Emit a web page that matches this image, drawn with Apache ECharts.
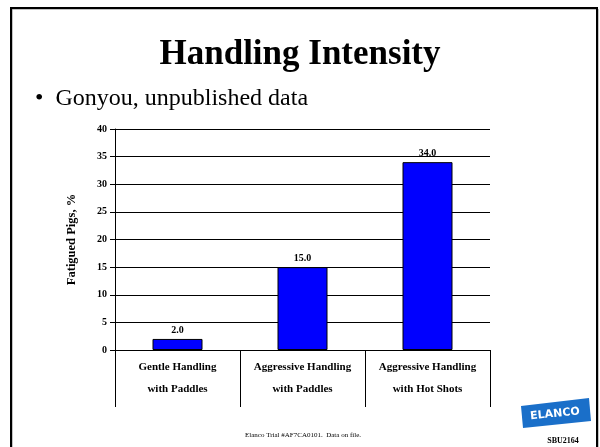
<!DOCTYPE html>
<html>
<head>
<meta charset="utf-8">
<script src="https://cdn.jsdelivr.net/npm/echarts@6/dist/echarts.min.js"></script>
<style>
  html, body { margin: 0; padding: 0; background: #fff; }
  #chart { width: 600px; height: 447px; }
</style>
</head>
<body>
<div id="chart"></div>
<script>
// Handling treatments and share of fatigued pigs
const categories = [
  'Gentle Handling\nwith Paddles',
  'Aggressive Handling\nwith Paddles',
  'Aggressive Handling\nwith Hot Shots'
];
const fatiguedPct = [2.0, 15.0, 34.0];
const yTicks = [0, 5, 10, 15, 20, 25, 30, 35, 40];

const serif = '"Liberation Serif", "Times New Roman", serif';

const chart = echarts.init(document.getElementById('chart'), null, { renderer: 'canvas' });

chart.setOption({
  backgroundColor: '#ffffff',
  animation: false,
  grid: { left: 115, right: 110, top: 129, bottom: 97, containLabel: false },
  xAxis: {
    type: 'category',
    data: categories,
    boundaryGap: true,
    axisLine: { show: true, lineStyle: { color: '#000', width: 1 } },
    axisTick: { show: true, inside: false, length: 57, lineStyle: { color: '#000', width: 1 } },
    axisLabel: {
      fontFamily: serif, fontWeight: 'bold', fontSize: 11, color: '#000',
      lineHeight: 22, margin: 6, interval: 0
    },
    splitLine: { show: false }
  },
  yAxis: {
    type: 'value',
    min: yTicks[0],
    max: yTicks[yTicks.length - 1],
    interval: yTicks[1] - yTicks[0],
    name: 'Fatigued Pigs, %',
    nameLocation: 'middle',
    nameGap: 37,
    nameRotate: 90,
    nameTextStyle: { fontFamily: serif, fontWeight: 'bold', fontSize: 12.5, color: '#000' },
    axisLine: { show: true, lineStyle: { color: '#000', width: 1 } },
    axisTick: { show: true, length: 5, lineStyle: { color: '#000' } },
    axisLabel: { fontFamily: serif, fontWeight: 'bold', fontSize: 10, color: '#000', margin: 8 },
    splitLine: { show: true, lineStyle: { color: '#000', width: 1 } }
  },
  series: [{
    type: 'bar',
    data: fatiguedPct,
    barWidth: '40%',
    itemStyle: { color: '#0000ff', borderColor: '#000', borderWidth: 1 },
    label: {
      show: true, position: 'top', distance: 4,
      formatter: p => p.value.toFixed(1),
      fontFamily: serif, fontWeight: 'bold', fontSize: 10, color: '#000'
    }
  }],
  graphic: [
    // slide frame with a light shadow edge
    { type: 'rect', shape: { x: 12, y: 9, width: 586, height: 450 }, style: { fill: 'none', stroke: '#888', lineWidth: 1 }, silent: true },
    { type: 'rect', shape: { x: 11, y: 8, width: 586, height: 450 }, style: { fill: 'none', stroke: '#000', lineWidth: 2 }, silent: true },
    {
      type: 'text', left: 'center', top: 37,
      style: { text: 'Handling Intensity', font: 'bold 35px ' + serif, fill: '#000' }
    },
    {
      type: 'text', left: 35, top: 87,
      style: { text: '\u2022  Gonyou, unpublished data', font: '24px ' + serif, fill: '#000' }
    },
    {
      type: 'text', x: 303, y: 435,
      style: { text: 'Elanco Trial #AF7CA0101.  Data on file.', font: '7px ' + serif, fill: '#000', align: 'center', verticalAlign: 'middle' }
    },
    // Elanco logo
    {
      type: 'polygon',
      shape: { points: [[521, 406], [589, 398], [591, 421], [523, 428]] },
      style: { fill: '#1a6fc9' }
    },
    {
      type: 'text', x: 555, y: 414, rotation: 0.1,
      style: { text: 'ELANCO', font: 'bold 11px "DejaVu Sans", sans-serif', fill: '#fff', align: 'center', verticalAlign: 'middle' }
    },
    {
      type: 'text', x: 563, y: 441,
      style: { text: 'SBU2164', font: 'bold 8px ' + serif, fill: '#000', align: 'center', verticalAlign: 'middle' }
    }
  ]
});
</script>
</body>
</html>
